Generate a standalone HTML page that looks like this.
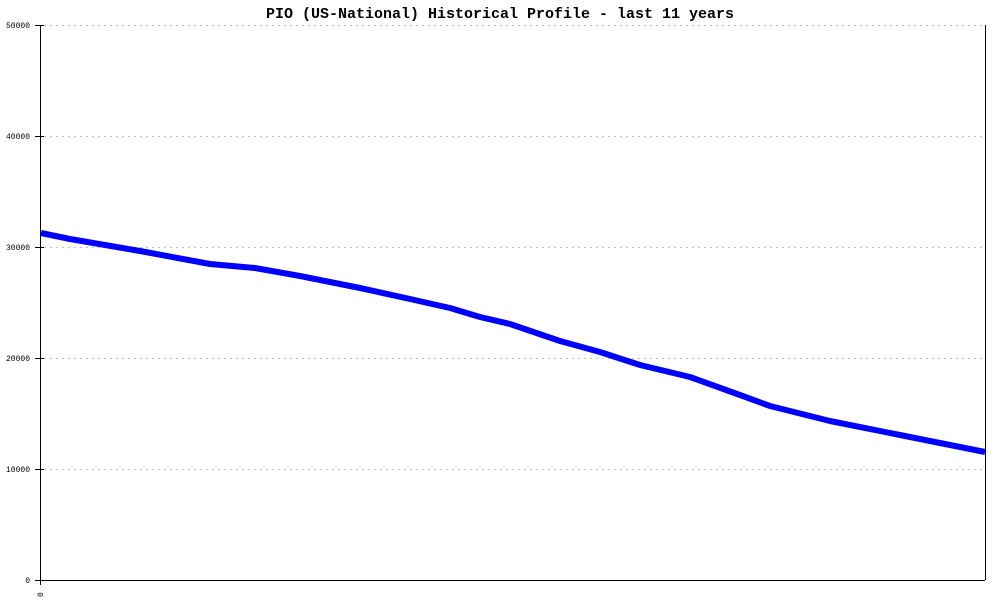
<!DOCTYPE html>
<html><head><style>body{margin:0;background:#fff}svg{display:block}</style></head><body>
<svg width="1000" height="600" xmlns="http://www.w3.org/2000/svg">
<rect width="1000" height="600" fill="#fff"/>
<text x="500" y="18" text-anchor="middle" font-family="Liberation Mono, monospace" font-size="15" font-weight="bold" fill="#000">PIO (US-National) Historical Profile - last 11 years</text>
<g stroke="#c0c0c0" stroke-dasharray="2,4" stroke-width="1">
<line x1="44" y1="25.5" x2="985" y2="25.5"/>
<line x1="44" y1="136.5" x2="985" y2="136.5"/>
<line x1="44" y1="247.5" x2="985" y2="247.5"/>
<line x1="44" y1="358.5" x2="985" y2="358.5"/>
<line x1="44" y1="469.5" x2="985" y2="469.5"/>
</g>
<g stroke="#000" stroke-width="1">
<line x1="40.5" y1="25" x2="40.5" y2="585"/>
<line x1="985.5" y1="25" x2="985.5" y2="580"/>
<line x1="35" y1="580.5" x2="985" y2="580.5"/>
<line x1="35" y1="25.5" x2="44" y2="25.5"/>
<line x1="35" y1="136.5" x2="44" y2="136.5"/>
<line x1="35" y1="247.5" x2="44" y2="247.5"/>
<line x1="35" y1="358.5" x2="44" y2="358.5"/>
<line x1="35" y1="469.5" x2="44" y2="469.5"/>
</g>
<g font-family="Liberation Mono, monospace" font-size="8" text-anchor="end" fill="#000">
<text x="30" y="28">50000</text>
<text x="30" y="139">40000</text>
<text x="30" y="250">30000</text>
<text x="30" y="361">20000</text>
<text x="30" y="472">10000</text>
<text x="30" y="583">0</text>
</g>
<text x="0" y="0" transform="translate(43,597) rotate(-90)" font-family="Liberation Mono, monospace" font-size="8" fill="#000">0</text>
<polyline fill="none" stroke="#0000ff" stroke-width="6" stroke-linejoin="round" points="41,233 70,239 140,251 210,264 255,268 300,276 360,288 410,299 450,308 480,317 510,324 560,341 600,352 640,365 690,377 740,395 770,406 830,421 900,435 985,452"/>
</svg>
</body></html>
